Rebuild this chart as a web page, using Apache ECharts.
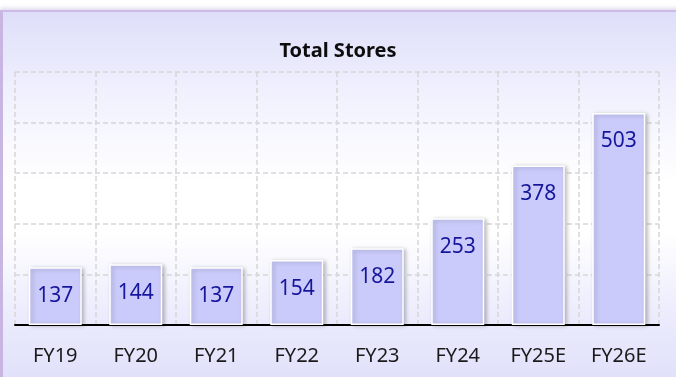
<!DOCTYPE html>
<html>
<head>
<meta charset="utf-8">
<script src="https://cdn.jsdelivr.net/npm/echarts@6/dist/echarts.min.js"></script>
<style>
  html, body { margin: 0; padding: 0; background: #ffffff; }
  #wrap { position: relative; width: 676px; height: 377px; overflow: hidden; }
  #card {
    position: absolute; left: 0px; top: 10px; width: 690px; height: 380px;
    border-left: 3px solid #c8b5e1; border-top: 2px solid #ccbbe4;
    background: linear-gradient(to bottom, #dedefa 0%, #f1f1fe 22%, #ffffff 45%, #ffffff 58%, #ededfd 78%, #dedefa 100%);
    box-shadow: 0px -2px 4px rgba(170,150,210,0.35);
  }
  #chart { position: absolute; left: 0; top: 0; width: 676px; height: 377px; }
</style>
</head>
<body>
<div id="wrap">
  <div id="card"></div>
  <div id="chart"></div>
</div>
<script>
  // Store counts by fiscal year (E = estimate)
  const categories = ['FY19', 'FY20', 'FY21', 'FY22', 'FY23', 'FY24', 'FY25E', 'FY26E'];
  const totalStores = [137, 144, 137, 154, 182, 253, 378, 503];

  const chart = echarts.init(document.getElementById('chart'), null, { renderer: 'canvas' });
  const fontFamily = '"Noto Sans", "Open Sans", sans-serif';
  const gridLine = { show: true, lineStyle: { color: '#d6d6d6', width: 1.5, type: [5, 3] } };

  chart.setOption({
    backgroundColor: 'transparent',
    animation: false,
    title: {
      text: 'Total Stores',
      left: 'center',
      top: 36,
      textStyle: { fontFamily, fontSize: 20, fontWeight: 'bold', color: '#0d0d0d' }
    },
    grid: { left: 15, right: 17, top: 72, bottom: 52 },
    xAxis: {
      type: 'category',
      data: categories,
      boundaryGap: true,
      axisLine: { show: true, lineStyle: { color: '#000000', width: 2 } },
      axisTick: { show: false },
      axisLabel: { fontFamily, fontSize: 20, color: '#1a1a1a', margin: 21 },
      splitLine: gridLine
    },
    yAxis: {
      type: 'value',
      min: 0,
      max: 600,
      interval: 120,
      axisLine: { show: false },
      axisTick: { show: false },
      axisLabel: { show: false },
      splitLine: gridLine
    },
    series: [{
      type: 'bar',
      data: totalStores,
      barWidth: 53,
      itemStyle: {
        color: '#cbcbfb',
        borderColor: '#ffffff',
        borderWidth: 1.5,
        shadowColor: 'rgba(0,0,0,0.25)',
        shadowBlur: 4,
        shadowOffsetX: 2,
        shadowOffsetY: 1
      },
      label: {
        show: true,
        position: 'insideTop',
        distance: 18,
        fontFamily,
        fontSize: 21,
        color: '#16169c'
      }
    }]
  });
</script>
</body>
</html>
